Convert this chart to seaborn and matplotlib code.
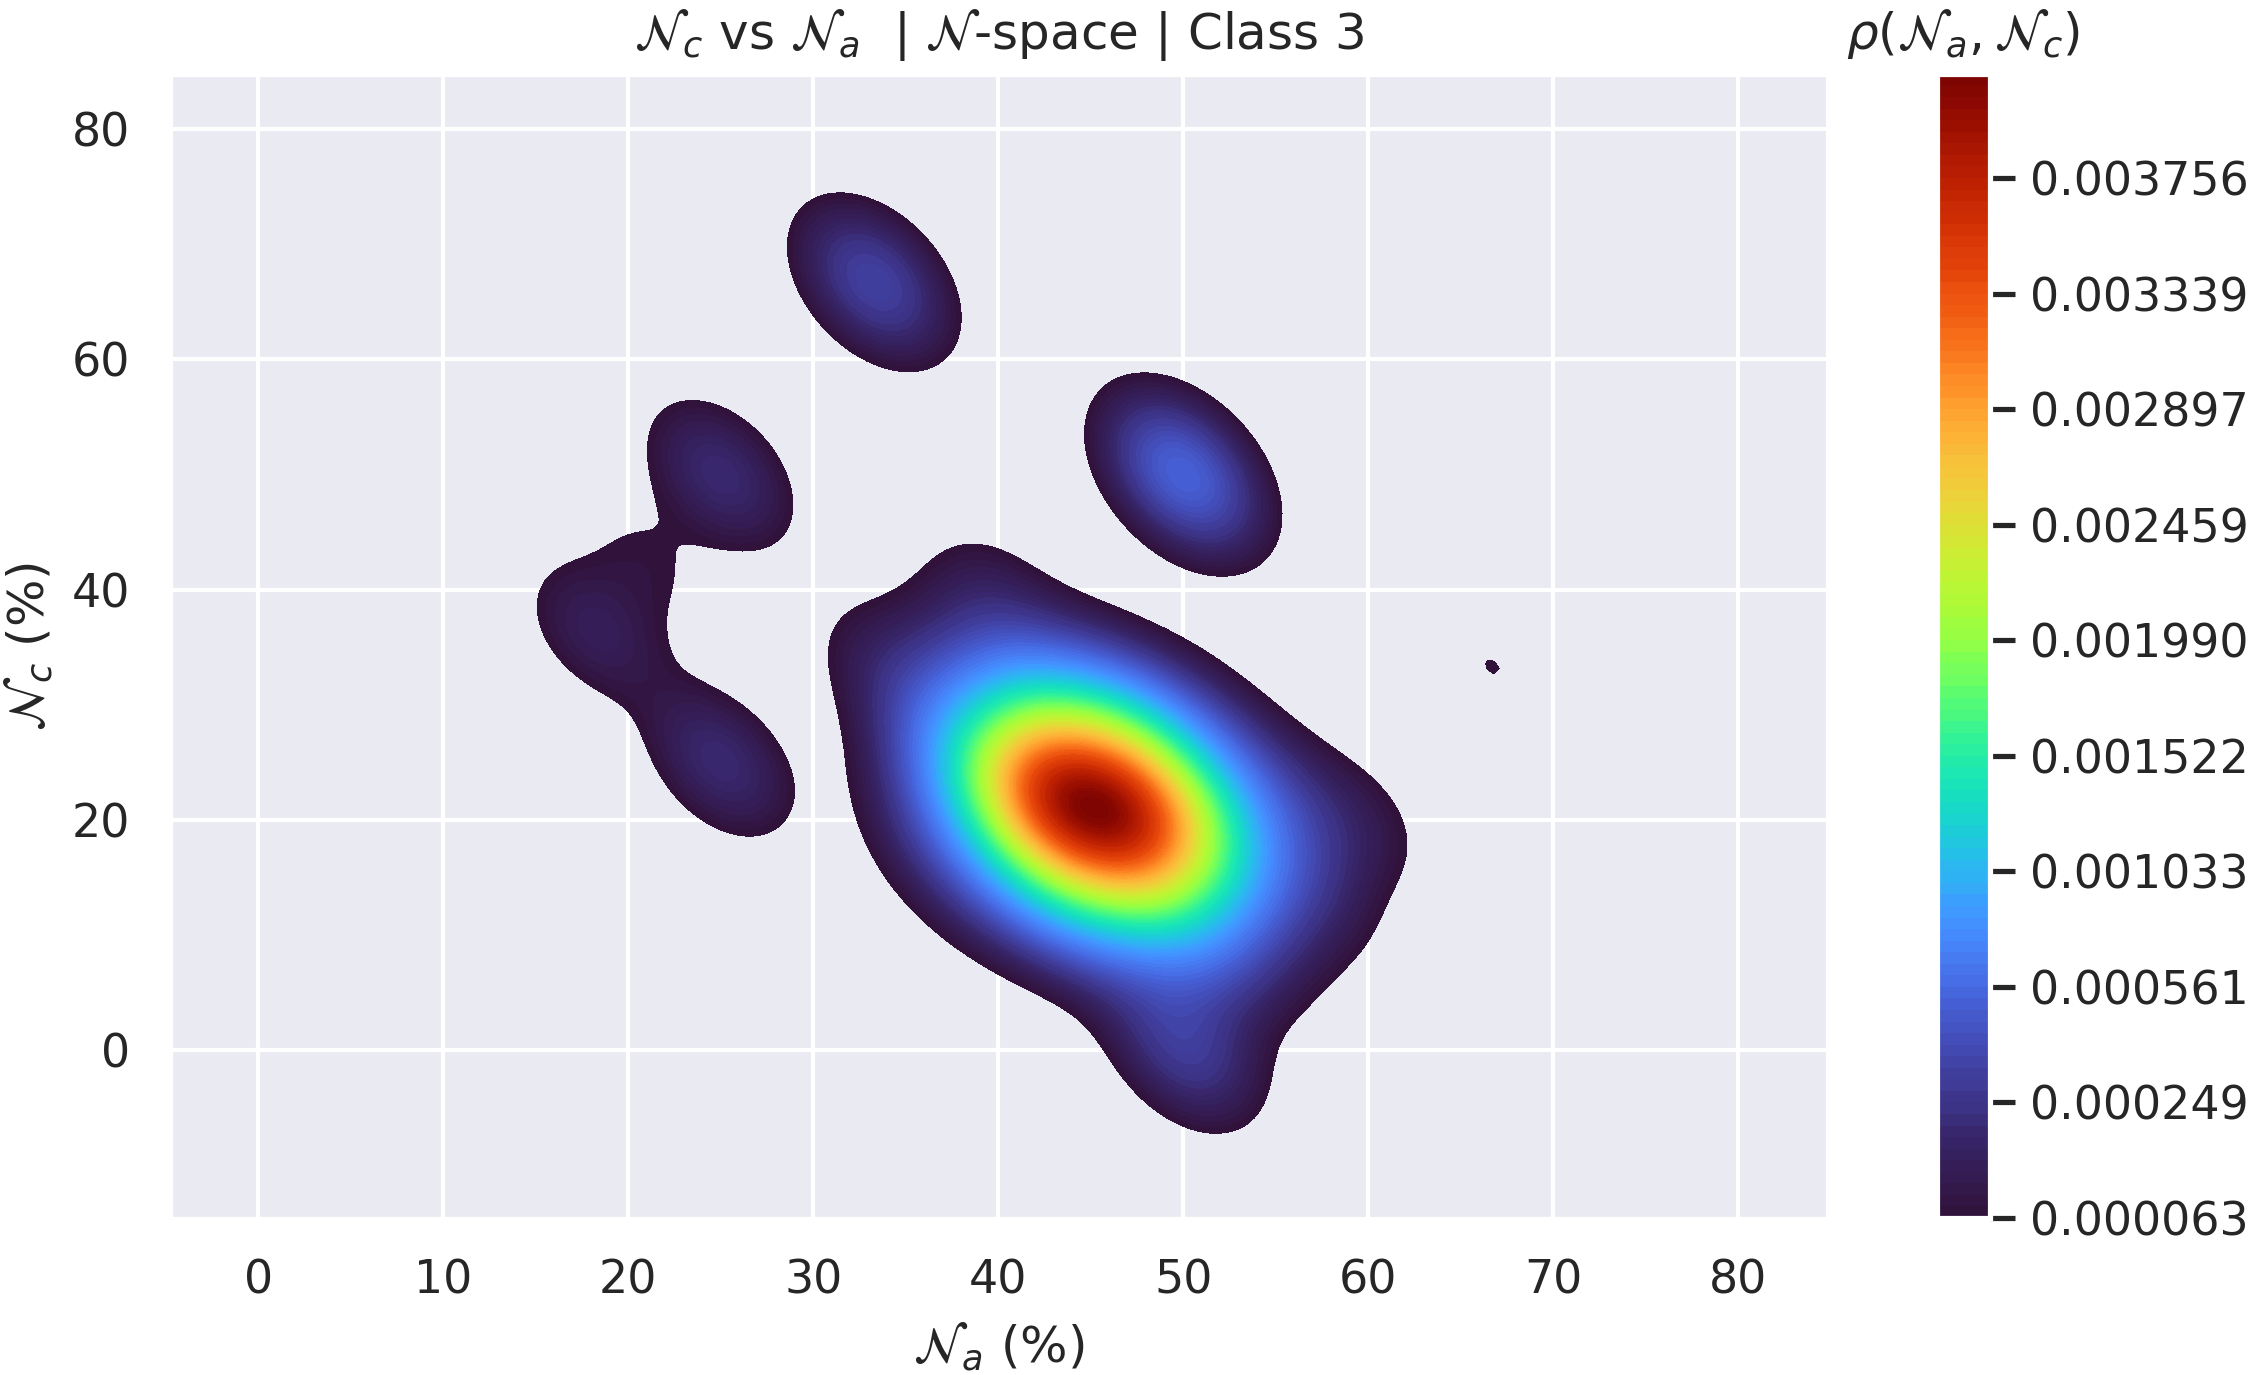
import numpy as np
import pandas as pd
import matplotlib
matplotlib.use("Agg")
import matplotlib.pyplot as plt
import seaborn as sns

# ---- data: sample compositions (percent) and how many samples share them ----
na_pct = [39,
          36, 39, 42, 45,
          36, 39, 42, 45, 48, 51,
          36, 39, 42, 45, 48, 51, 54,
          36, 39, 42, 45, 48, 51, 54, 57,
          36, 39, 42, 45, 48, 51, 54, 57,
          39, 42, 45, 48, 51, 54, 57,
          45, 48, 51, 54,
          51,
          66.7, 33.3, 50, 25, 18.2, 21, 25, 50, 40, 60, 33.3]
nc_pct = [37,
          33, 33, 33, 33,
          29, 29, 29, 29, 29, 29,
          25, 25, 25, 25, 25, 25, 25,
          21, 21, 21, 21, 21, 21, 21, 21,
          17, 17, 17, 17, 17, 17, 17, 17,
          13, 13, 13, 13, 13, 13, 13,
          9, 9, 9, 9,
          5,
          33.3, 66.7, 50, 50, 36.4, 42.5, 25, 0, 40, 20, 33.3]
n_samples = [1,
             1, 1, 1, 1,
             1, 2, 6, 6, 4, 1,
             1, 7, 14, 14, 10, 3, 1,
             1, 6, 14, 13, 14, 8, 2, 1,
             1, 2, 9, 14, 14, 8, 2, 1,
             1, 3, 5, 6, 3, 1, 1,
             1, 1, 2, 1,
             1,
             1, 5, 8, 3, 2, 1, 3, 4, 1, 1, 1]

x_ticks = [0, 10, 20, 30, 40, 50, 60, 70, 80]
y_ticks = [0, 20, 40, 60, 80]

sns.set_theme(style="darkgrid", context="notebook", font_scale=1.0)

W, H = 2249, 1375
fig = plt.figure(figsize=(W / 300, H / 300), dpi=300)
ax = fig.add_axes([170 / W, 1 - 1219 / H, (1828 - 170) / W, (1219 - 74) / H])
cax = fig.add_axes([1937 / W, 1 - 1218 / H, 53 / W, (1218 - 74) / H])

# one row per sample
df = pd.DataFrame({
    "Na": np.repeat(na_pct, n_samples),
    "Nc": np.repeat(nc_pct, n_samples),
})
sns.kdeplot(data=df, x="Na", y="Nc", fill=True, levels=100,
            thresh=0.0365, cmap="turbo", cbar=True, cbar_ax=cax,
            cbar_kws={"format": "%.6f"}, ax=ax)

ax.set_xlim(-4.77, 84.85)
ax.set_ylim(-14.7, 84.8)
ax.set_xticks(x_ticks)
ax.set_yticks(y_ticks)
ax.set_title(r"$\mathcal{N}_c$ vs $\mathcal{N}_a$  | $\mathcal{N}$-space | Class 3")
ax.set_xlabel(r"$\mathcal{N}_a$ (%)")
ax.set_ylabel(r"$\mathcal{N}_c$ (%)")
cax.set_title(r"$\rho(\mathcal{N}_a, \mathcal{N}_c)$")

fig.savefig("out.png", dpi=300)
